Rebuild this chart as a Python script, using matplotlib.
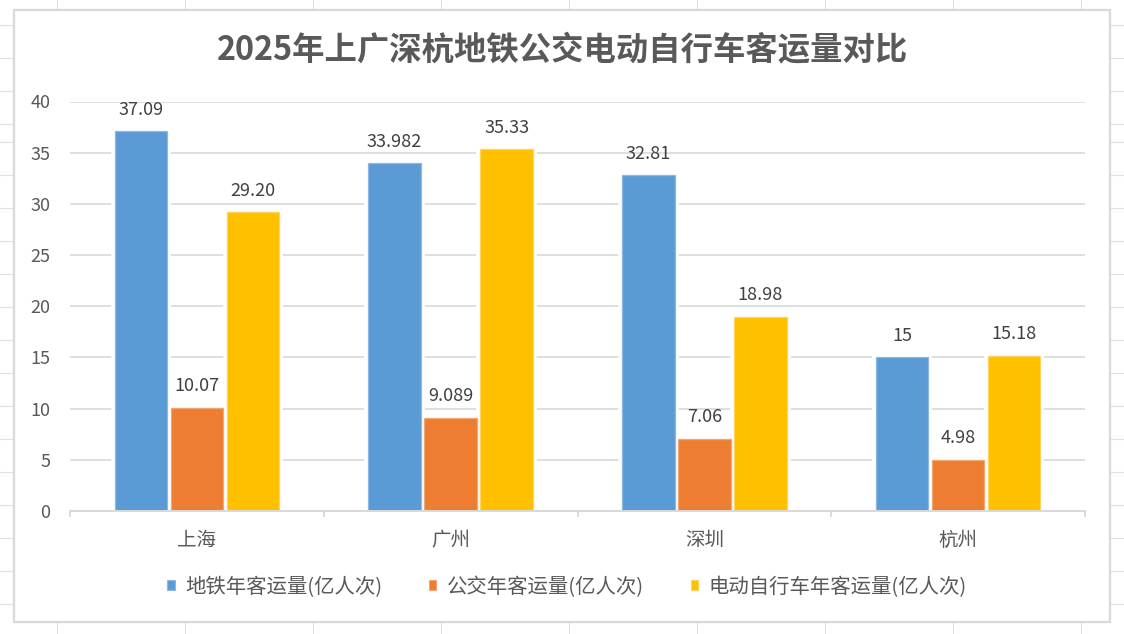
import matplotlib
matplotlib.use("Agg")
import matplotlib.pyplot as plt
from matplotlib.lines import Line2D
from matplotlib.patches import Rectangle, Patch
import numpy as np

plt.rcParams['font.family'] = ['Noto Sans CJK SC', 'DejaVu Sans']

# ---- data ----
title = "2025年上广深杭地铁公交电动自行车客运量对比"
cities = ["上海", "广州", "深圳", "杭州"]
series_names = ["地铁年客运量(亿人次)", "公交年客运量(亿人次)", "电动自行车年客运量(亿人次)"]
metro = [37.09, 33.982, 32.81, 15]
bus = [10.07, 9.089, 7.06, 4.98]
ebike = [29.20, 35.33, 18.98, 15.18]
metro_labels = ["37.09", "33.982", "32.81", "15"]
bus_labels = ["10.07", "9.089", "7.06", "4.98"]
ebike_labels = ["29.20", "35.33", "18.98", "15.18"]
yticks = [0, 5, 10, 15, 20, 25, 30, 35, 40]

colors = ["#5B9BD5", "#ED7D31", "#FFC000"]
edge_colors = ["#8DB8E3", "#F3A674", "#FFD45C"]
text_gray = "#595959"
label_gray = "#404040"
grid_gray = "#D9D9D9"

W, H = 1124, 634
fig = plt.figure(figsize=(W / 100, H / 100), dpi=100)
fig.patch.set_facecolor("white")

def fx(px):
    return px / W

def fy(py):
    return 1 - py / H

# spreadsheet background lines
sheet_gray = "#E1E1E1"
for xv in range(57, 1124, 128):
    fig.add_artist(Line2D([fx(xv), fx(xv)], [0, 1], transform=fig.transFigure,
                          color=sheet_gray, lw=0.8, zorder=-3))
row_lines = [25, 58, 91, 124, 141.7, 174.7, 207.7, 240.7, 273.7, 306.7, 339.7,
             372.7, 405.7, 438.7, 471.7, 504.7, 537.7, 570.7, 603.7]
for yv in row_lines:
    fig.add_artist(Line2D([0, 1], [fy(yv), fy(yv)], transform=fig.transFigure,
                          color=sheet_gray, lw=0.8, zorder=-3))

# chart frame
fig.add_artist(Rectangle((fx(14), fy(622)), fx(1110) - fx(14), fy(10) - fy(622),
                         transform=fig.transFigure, facecolor="white",
                         edgecolor=grid_gray, lw=1.6, zorder=-2))

ax = fig.add_axes([fx(70), fy(511), fx(1085) - fx(70), fy(101.5) - fy(511)])
ax.set_facecolor("none")

x = np.arange(len(cities))
bw = 0.2065
step = 0.2207
all_vals = [metro, bus, ebike]
all_labels = [metro_labels, bus_labels, ebike_labels]
for i, (vals, labs) in enumerate(zip(all_vals, all_labels)):
    pos = x + (i - 1) * step
    # white halo (breaks gridlines around bars)
    ax.bar(pos, vals, width=bw, color="white", edgecolor="white", lw=5.5, zorder=2)
    ax.bar(pos, vals, width=bw, color=colors[i], edgecolor=edge_colors[i],
           lw=0.9, zorder=3, label=series_names[i])
    for p, v, lab in zip(pos, vals, labs):
        ax.annotate(lab, xy=(p, v), xytext=(0, 15.5), textcoords="offset points",
                    ha="center", va="center", fontsize=13, color=label_gray, zorder=4)

ax.set_xlim(-0.5, len(cities) - 0.5)
ax.set_ylim(0, 40)
ax.set_yticks(yticks)
ax.set_yticklabels([str(t) for t in yticks])
ax.set_xticks(x)
ax.set_xticklabels(cities)
ax.set_xticks(np.arange(-0.5, len(cities), 1.0), minor=True)

ax.yaxis.grid(True, color=grid_gray, lw=1.2, zorder=1)
ax.set_axisbelow(True)
for s in ["top", "right", "left"]:
    ax.spines[s].set_visible(False)
ax.spines["bottom"].set_color(grid_gray)
ax.spines["bottom"].set_linewidth(1.4)
ax.spines["bottom"].set_zorder(5)

ax.tick_params(axis="y", length=0, pad=14, labelsize=13, labelcolor=text_gray)
ax.tick_params(axis="x", which="major", length=0, pad=13.5, labelsize=14, labelcolor=text_gray)
ax.tick_params(axis="x", which="minor", length=4, width=1.4, color=grid_gray)

fig.text(fx(562), fy(51), title, ha="center", va="center", fontsize=23.3,
         fontweight="bold", color=text_gray)

handles = [Patch(facecolor=colors[i], edgecolor=edge_colors[i], lw=0.8) for i in range(3)]
leg = fig.legend(handles, series_names, loc="center", bbox_to_anchor=(fx(567), fy(587)),
                 ncol=3, frameon=False, fontsize=14.7, handlelength=0.36, handleheight=0.36,
                 handletextpad=0.5, columnspacing=2.3, labelcolor=text_gray)

fig.savefig("out.png", dpi=100, facecolor="white")
